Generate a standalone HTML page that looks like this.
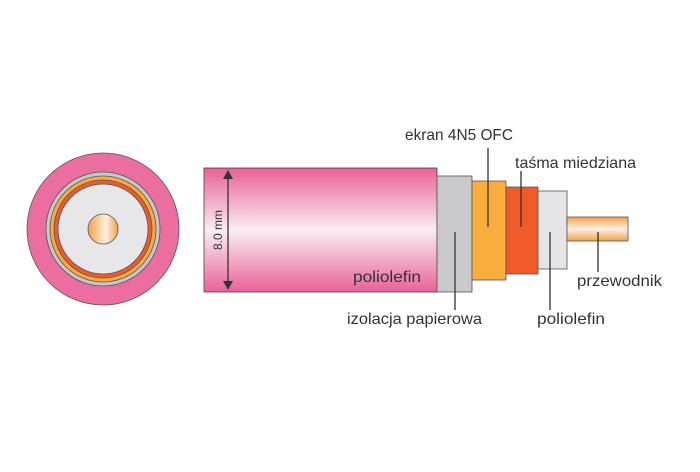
<!DOCTYPE html>
<html><head><meta charset="utf-8"><style>
body{margin:0;background:#fff}
text{font-family:"Liberation Sans",sans-serif;fill:#333}
</style></head><body>
<svg width="700" height="467" viewBox="0 0 700 467" xmlns="http://www.w3.org/2000/svg">
<defs>
<linearGradient id="pk" x1="0" y1="0" x2="0" y2="1">
<stop offset="0" stop-color="#ea6198"/><stop offset="0.5" stop-color="#f8eef3"/><stop offset="1" stop-color="#ea6198"/></linearGradient>
<linearGradient id="cu" x1="0" y1="0" x2="0" y2="1">
<stop offset="0" stop-color="#f3a04a"/><stop offset="0.5" stop-color="#fdf0e4"/><stop offset="1" stop-color="#f3a04a"/></linearGradient>
<linearGradient id="cuh" x1="0" y1="0" x2="1" y2="0">
<stop offset="0" stop-color="#f3a04a"/><stop offset="0.6" stop-color="#fdf0e4"/><stop offset="1" stop-color="#f3a04a"/></linearGradient>
</defs>
<g stroke="#555" stroke-width="0.8">
<circle cx="103" cy="229" r="76" fill="#ec6ea0"/>
<circle cx="103" cy="229" r="57" fill="#c8c8ca"/>
<circle cx="103" cy="229" r="53" fill="#f7ab3e"/>
<circle cx="103" cy="229" r="49" fill="#ee5a2a"/>
<circle cx="103" cy="229" r="45" fill="#e7e7ea"/>
<circle cx="103" cy="229" r="15" fill="url(#cuh)"/>
<rect x="204" y="168" width="233" height="124" fill="url(#pk)" stroke="#444"/>
<rect x="437" y="176" width="35" height="116" fill="#c9c9cb"/>
<rect x="472" y="181" width="34" height="99" fill="#f8ad3c"/>
<rect x="506" y="187" width="32" height="87" fill="#ef5a28"/>
<rect x="538" y="191" width="29" height="78" fill="#e5e5e7"/>
<rect x="567" y="217" width="61" height="24" fill="url(#cu)"/>
</g>
<g stroke="#333" stroke-width="1.3" fill="none">
<line x1="228" y1="176" x2="228" y2="284"/>
<line x1="488" y1="148" x2="488" y2="227"/>
<line x1="521" y1="171" x2="521" y2="227"/>
<line x1="598" y1="232" x2="598" y2="272"/>
<line x1="550" y1="232" x2="550" y2="310"/>
<line x1="455" y1="232" x2="455" y2="310"/>
</g>
<polygon points="228,170 223,179 233,179" fill="#333"/>
<polygon points="228,290 223,281 233,281" fill="#333"/>
<text x="224" y="230" font-size="12" text-anchor="middle" transform="rotate(-90 224 230)" dy="-2">8.0 mm</text>
<text x="353" y="282" font-size="16" textLength="68" lengthAdjust="spacingAndGlyphs">poliolefin</text>
<text x="405" y="140" font-size="16" textLength="108" lengthAdjust="spacingAndGlyphs">ekran 4N5 OFC</text>
<text x="515" y="168" font-size="16" textLength="121" lengthAdjust="spacingAndGlyphs">taśma miedziana</text>
<text x="577" y="286" font-size="16" textLength="85" lengthAdjust="spacingAndGlyphs">przewodnik</text>
<text x="537" y="324" font-size="16" textLength="68" lengthAdjust="spacingAndGlyphs">poliolefin</text>
<text x="347" y="324" font-size="16" textLength="135" lengthAdjust="spacingAndGlyphs">izolacja papierowa</text>
</svg>
</body></html>
